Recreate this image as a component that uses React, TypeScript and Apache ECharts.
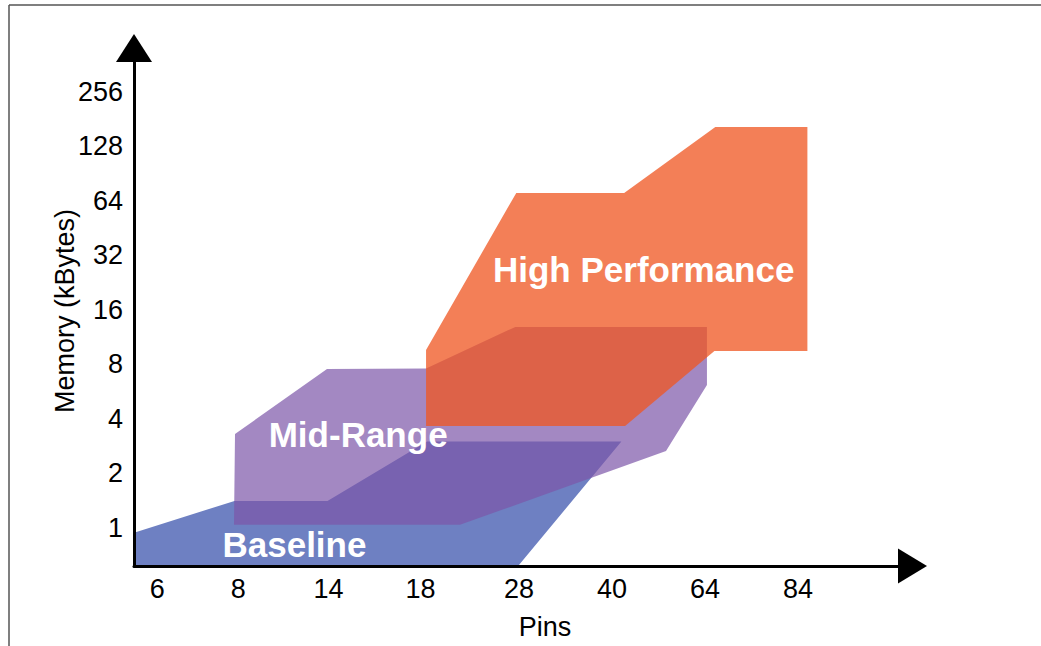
import React, { useEffect, useRef } from "react";
import * as echarts from "echarts";

// X axis: pin-count tick labels placed along a "slot" scale
const pinLabels = ["6", "8", "14", "18", "28", "40", "64", "84"];
const pinSlots = [0.25, 1.12, 2.09, 3.08, 4.14, 5.14, 6.14, 7.14];

// Y axis: memory in kBytes (log2 scale)
const memoryTicks = [1, 2, 4, 8, 16, 32, 64, 128, 256];
const MEM_FLOOR = 0.616;
const MEM_CEIL = 448;
const SLOT_MAX = 8.37;

// Baseline family region (slot, kBytes)
const baselineSlots = [0, 1.08, 2.08, 3.15, 5.24, 4.13, 0];
const baselineMemory = [0.94, 1.41, 1.41, 3.0, 3.0, MEM_FLOOR, MEM_FLOOR];

// Mid-Range family region
const midSlots = [1.075, 1.086, 2.075, 3.14, 4.1, 6.16, 6.16, 5.72, 3.505];
const midMemory = [1.04, 3.3, 7.55, 7.6, 12.9, 12.9, 6.16, 2.66, 1.04];

// High Performance family region
const highSlots = [3.14, 3.14, 4.11, 5.27, 6.25, 7.24, 7.24, 6.24, 5.28];
const highMemory = [3.66, 9.62, 70.9, 70.9, 164, 164, 9.5, 9.5, 3.66];

const FONT = '"Liberation Sans", Arial, Helvetica, sans-serif';

function regionSeries(
  name: string,
  slots: number[],
  memory: number[],
  color: string,
  opacity: number,
  order: number,
  labelSlot: number,
  labelMemory: number
) {
  return {
    type: "custom",
    name,
    coordinateSystem: "cartesian2d",
    clip: false,
    data: slots.map((s, i) => [s, Math.log2(memory[i])]),
    encode: { x: 0, y: 1 },
    renderItem: (params: any, api: any) => {
      if (params.dataIndex !== 0) return null;
      const pts = slots.map((s, i) => api.coord([s, Math.log2(memory[i])]));
      const c = api.coord([labelSlot, Math.log2(labelMemory)]);
      return {
        type: "group",
        children: [
          {
            type: "polygon",
            z2: order,
            shape: { points: pts },
            style: { fill: color, opacity },
          },
          {
            type: "text",
            z2: 100,
            x: c[0],
            y: c[1],
            style: {
              text: name,
              fill: "#ffffff",
              fontSize: 35,
              fontWeight: "bold",
              fontFamily: FONT,
              align: "center",
              verticalAlign: "middle",
            },
          },
        ],
      };
    },
  };
}

export default function App() {
  const ref = useRef<HTMLDivElement>(null);

  useEffect(() => {
    if (!ref.current) return;
    const chart = echarts.init(ref.current, undefined, { renderer: "svg" });
    const axisLabelStyle = { color: "#000", fontSize: 27, fontFamily: FONT };
    chart.setOption({
      animation: false,
      backgroundColor: "#ffffff",
      grid: { left: 134, right: 128.5, top: 48, bottom: 80 },
      xAxis: {
        type: "value",
        min: 0,
        max: SLOT_MAX,
        z: 10,
        splitLine: { show: false },
        axisTick: { show: false },
        axisLine: {
          show: true,
          onZero: false,
          lineStyle: { color: "#000", width: 3 },
          symbol: ["none", "triangle"],
          symbolSize: [35, 29],
        },
        axisLabel: {
          ...axisLabelStyle,
          margin: 9,
          customValues: pinSlots,
          formatter: (v: number) => {
            let best = 0;
            pinSlots.forEach((p, i) => {
              if (Math.abs(p - v) < Math.abs(pinSlots[best] - v)) best = i;
            });
            return pinLabels[best];
          },
        },
      },
      yAxis: {
        type: "value",
        min: Math.log2(MEM_FLOOR),
        max: Math.log2(MEM_CEIL),
        z: 10,
        splitLine: { show: false },
        axisTick: { show: false },
        axisLine: {
          show: true,
          onZero: false,
          lineStyle: { color: "#000", width: 3 },
          symbol: ["none", "triangle"],
          symbolSize: [36, 28],
        },
        axisLabel: {
          ...axisLabelStyle,
          margin: 11,
          customValues: memoryTicks.map((m) => Math.log2(m)),
          formatter: (v: number) => String(Math.round(Math.pow(2, v))),
        },
      },
      graphic: [
        {
          type: "line",
          shape: { x1: 9, y1: 5, x2: 1041, y2: 5 },
          style: { stroke: "#555", lineWidth: 1.5 },
        },
        {
          type: "line",
          shape: { x1: 9, y1: 5, x2: 9, y2: 646 },
          style: { stroke: "#555", lineWidth: 1.5 },
        },
        {
          type: "text",
          x: 545,
          y: 627,
          style: {
            text: "Pins",
            fill: "#000",
            fontSize: 27,
            fontFamily: FONT,
            align: "center",
            verticalAlign: "middle",
          },
        },
        {
          type: "text",
          x: 65,
          y: 311,
          rotation: Math.PI / 2,
          style: {
            text: "Memory (kBytes)",
            fill: "#000",
            fontSize: 27,
            fontFamily: FONT,
            align: "center",
            verticalAlign: "middle",
          },
        },
      ],
      series: [
        regionSeries("Baseline", baselineSlots, baselineMemory, "#6e80c2", 1, 1, 1.725, 0.806),
        regionSeries("Mid-Range", midSlots, midMemory, "#7c56a8", 0.7, 2, 2.41, 3.28),
        regionSeries("High Performance", highSlots, highMemory, "#ef5722", 0.76, 3, 5.48, 26.8),
      ],
    });
    return () => chart.dispose();
  }, []);

  return (
    <div
      ref={ref}
      style={{ position: "absolute", left: 0, top: 0, width: 1041, height: 646 }}
    />
  );
}
